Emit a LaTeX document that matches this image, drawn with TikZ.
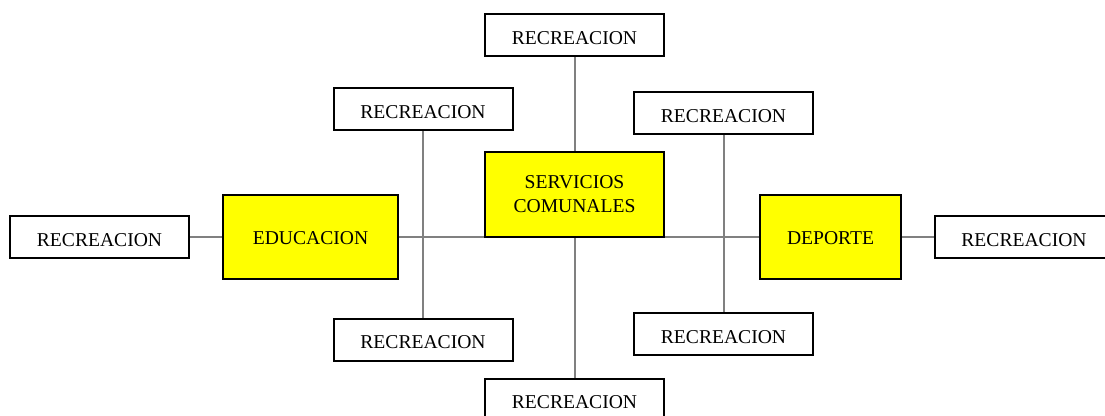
\documentclass[tikz,border=0pt]{standalone}
\usepackage{fontspec}
\setmainfont{Liberation Serif}
\usetikzlibrary{backgrounds}
\definecolor{lgray}{RGB}{128,128,128}
\definecolor{yel}{RGB}{255,255,0}
\tikzset{
  base/.style={draw=black, line width=1.5pt, fill=white, minimum width=179*0.75pt, minimum height=42*0.75pt, inner sep=0pt, font=\fontsize{14.7}{18}\selectfont, align=center},
  box/.style={base, text height=14.2pt, text depth=0pt},
  ybox/.style={base, fill=yel, minimum height=84*0.75pt, text height=12pt, text depth=0pt},
  cbox/.style={base, fill=yel, minimum height=85*0.75pt},
  link/.style={draw=lgray, line width=1.5pt}
}
\begin{document}
\begin{tikzpicture}[x=0.75pt,y=-0.75pt]
\useasboundingbox (0,0) rectangle (1105,416);
\node[box] (top) at (574.5,35.5) {RECREACION};
\node[box] (ul) at (423,109) {RECREACION};
\node[box] (ur) at (723.5,113.5) {RECREACION};
\node[cbox] (cen) at (574.5,194.5) {SERVICIOS\\COMUNALES};
\node[ybox, minimum width=175*0.75pt] (edu) at (310.5,237) {EDUCACION};
\node[ybox, minimum width=141*0.75pt] (dep) at (830.5,237) {DEPORTE};
\node[box] (fl) at (99.5,237) {RECREACION};
\node[box, minimum width=178*0.75pt] (fr) at (1024,237) {RECREACION};
\node[box] (ll) at (423,339.5) {RECREACION};
\node[box] (lr) at (723.5,334) {RECREACION};
\node[box] (bot) at (574.5,399.5) {RECREACION};
\begin{scope}[on background layer]
\draw[link] (fl.east) -- (edu.west);
\draw[link] (edu.east) -- (dep.west);
\draw[link] (dep.east) -- (fr.west);
\draw[link] (ul.south) -- (ll.north);
\draw[link] (ur.south) -- (lr.north);
\draw[link] (top.south) -- (cen.north);
\draw[link] (cen.south) -- (bot.north);
\end{scope}
\end{tikzpicture}
\end{document}
